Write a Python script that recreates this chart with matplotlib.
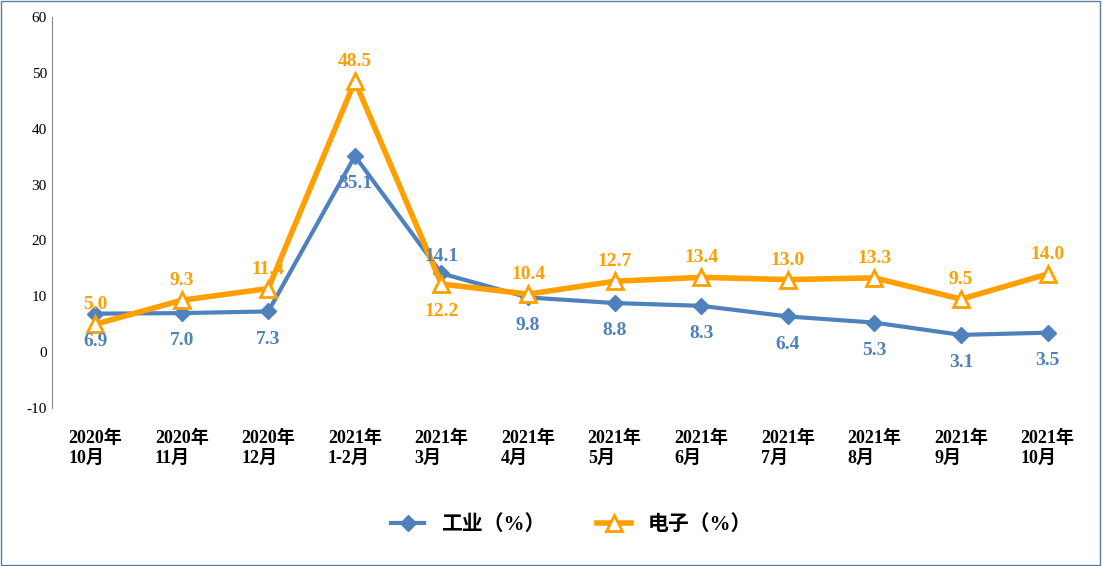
import matplotlib
matplotlib.use("Agg")
import matplotlib.pyplot as plt

cats = ["2020年\n10月","2020年\n11月","2020年\n12月","2021年\n1-2月","2021年\n3月","2021年\n4月",
        "2021年\n5月","2021年\n6月","2021年\n7月","2021年\n8月","2021年\n9月","2021年\n10月"]
ind = [6.9,7.0,7.3,35.1,14.1,9.8,8.8,8.3,6.4,5.3,3.1,3.5]
ele = [5.0,9.3,11.4,48.5,12.2,10.4,12.7,13.4,13.0,13.3,9.5,14.0]
ind_off = [-20,-20,-20,-20,12,-20,-20,-20,-20,-20,-20,-20]
ele_off = [14,14,14,14,-20,14,14,14,14,14,14,14]

fam = ['Liberation Serif','Noto Sans CJK SC']
plt.rcParams['font.family'] = fam
plt.rcParams['axes.unicode_minus'] = False
blue = '#4F81BD'; orange = '#FFA000'

fig = plt.figure(figsize=(11.02,5.66), dpi=100)
ax = fig.add_axes([0.047, 0.279, 0.943, 0.691])
x = range(len(cats))
ax.plot(x, ind, color=blue, lw=3, marker='D', ms=8, label='工业（%）')
ax.plot(x, ele, color=orange, lw=4, marker='^', ms=12, mfc='white', mec=orange, mew=2, label='电子（%）')
for i in x:
    ax.annotate(f"{ind[i]:.1f}", (i, ind[i]), xytext=(0, ind_off[i]), textcoords='offset points',
                ha='center', va='center', color=blue, fontsize=14, fontweight='bold')
    ax.annotate(f"{ele[i]:.1f}", (i, ele[i]), xytext=(0, ele_off[i]), textcoords='offset points',
                ha='center', va='center', color=orange, fontsize=14, fontweight='bold')
ax.set_xlim(-0.5, 11.5)
ax.set_ylim(-10, 60)
ax.set_yticks(range(-10, 61, 10))
ax.set_xticks(list(x))
ax.set_xticklabels(cats, fontsize=13, fontweight='bold', multialignment='left')
ax.tick_params(axis='x', length=0, pad=16)
ax.tick_params(axis='y', length=0, labelsize=11)
for s in ['top','right','bottom']:
    ax.spines[s].set_visible(False)
ax.spines['left'].set_color('#888888')
leg = ax.legend(loc='upper center', bbox_to_anchor=(0.5, -0.225), ncol=2, frameon=False,
                prop={'family': fam, 'size': 15, 'weight': 'bold'}, columnspacing=2.5, handlelength=1.6)
fig.patches.append(plt.Rectangle((0.001,0.002),0.997,0.996, transform=fig.transFigure,
                                 fill=False, ec='#5B7FA8', lw=1))
fig.savefig("out.png", dpi=100)
